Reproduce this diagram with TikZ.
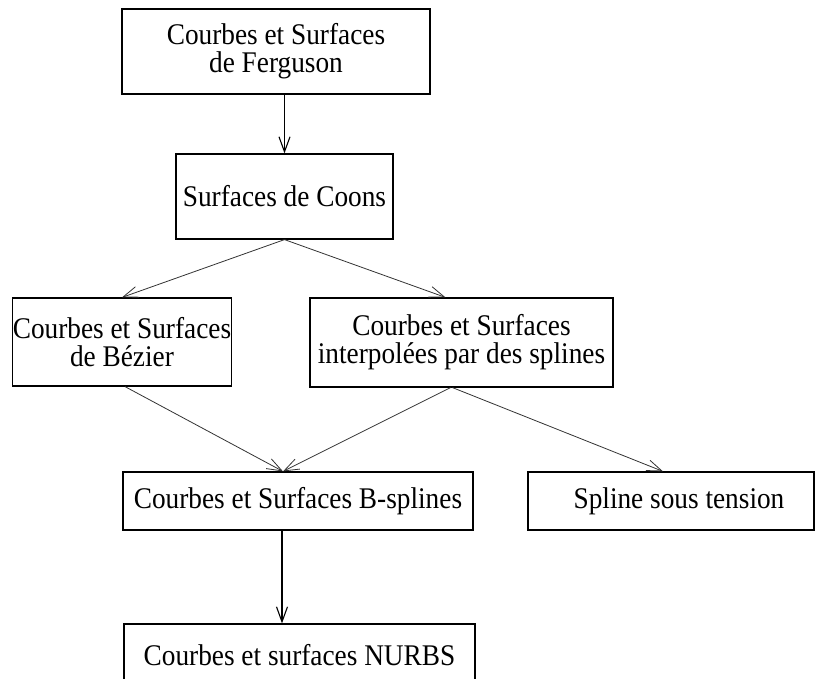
\documentclass[tikz,border=0pt]{standalone}
\usepackage{fontspec}
\setmainfont[FakeStretch=0.91]{Liberation Serif}
\usepackage{tikz}
\usetikzlibrary{arrows.meta, calc}

\begin{document}
\begin{tikzpicture}[x=1pt, y=-1pt, >={Straight Barb[length=15pt, width=11pt]},
    boite/.style={draw, line width=1.2pt, inner sep=0pt, align=center,
        font=\fontsize{30pt}{28pt}\selectfont},
    fleche/.style={->, black!80, line width=0.8pt}]
        \clip (0,0) rectangle (815,679);

        \node[boite, minimum width=308pt, minimum height=85pt] (ferg) at (276,51.5) {Courbes et Surfaces\\de Ferguson};
        \node[boite, minimum width=217pt, minimum height=85pt] (coons) at (284.5,196.5) {Surfaces de Coons};
        \node[boite, minimum width=218pt, minimum height=88pt] (bez) at (122,342) {Courbes et Surfaces\\de Bézier};
        \node[boite, minimum width=303pt, minimum height=89pt] (interp) at (461.5,342.5) {Courbes et Surfaces\\interpolées par des splines};
        \node[boite, minimum width=350pt, minimum height=58pt] (bspl) at (298,501) {Courbes et Surfaces B-splines};
        \node[boite, minimum width=286pt, minimum height=58pt] (tens) at (671,501) {\hspace*{16pt}Spline sous tension};
        \node[boite, minimum width=351pt, minimum height=62pt] (nurbs) at (299.5,655) {Courbes et surfaces NURBS};

        \draw[fleche, black, line width=1.1pt] (coons.north |- ferg.south) -- (coons.north);
        \draw[fleche] (coons.south) -- (bez.north);
        \draw[fleche] (coons.south) -- ([xshift=-16pt]interp.north);
        \draw[fleche] ([xshift=3pt]bez.south) -- ([xshift=-15pt]bspl.north);
        \draw[fleche] ([xshift=-11pt]interp.south) -- ([xshift=-15pt]bspl.north);
        \draw[fleche] ([xshift=-9pt]interp.south) -- ([xshift=-8pt]tens.north);
        \draw[fleche, black, line width=1.1pt] ([xshift=-16pt]bspl.south) -- ([xshift=-16pt]bspl.south |- nurbs.north);
    \end{tikzpicture}
\end{document}
